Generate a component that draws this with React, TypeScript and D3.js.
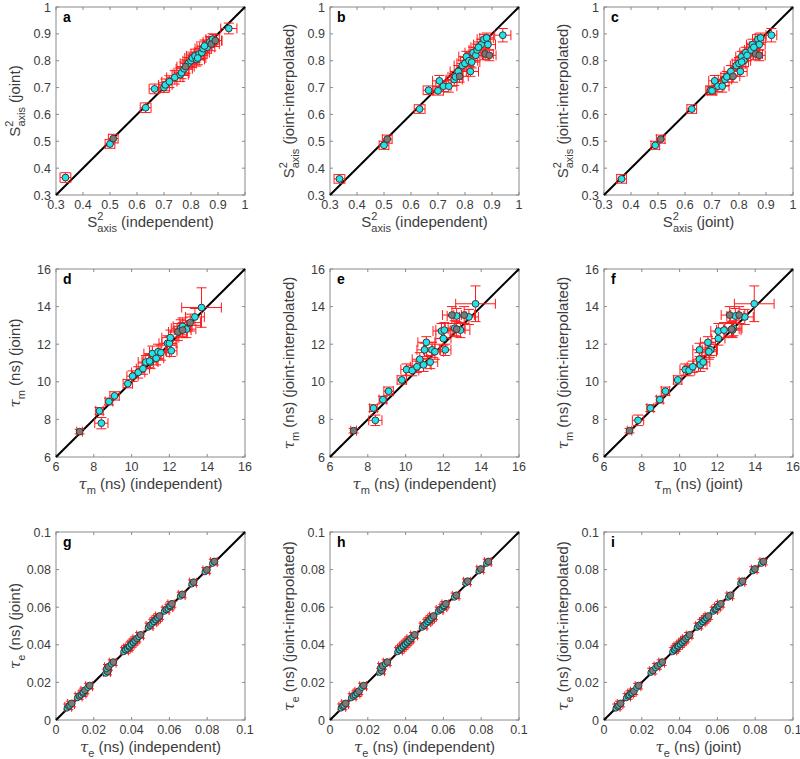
import React from 'react';
import * as d3 from 'd3';

// ---------- data ----------
// S2 axis order parameters per residue
const s2Indep = [0.335, 0.500, 0.512, 0.632, 0.665, 0.700, 0.705, 0.720, 0.740, 0.760, 0.765, 0.775, 0.780, 0.790, 0.800, 0.805, 0.820, 0.815, 0.830, 0.840, 0.845, 0.860, 0.870, 0.875, 0.885, 0.890, 0.880, 0.940, 0.825, 0.850];
const s2Joint = [0.365, 0.490, 0.510, 0.625, 0.695, 0.700, 0.710, 0.722, 0.738, 0.748, 0.755, 0.770, 0.778, 0.790, 0.800, 0.810, 0.805, 0.818, 0.825, 0.830, 0.845, 0.850, 0.870, 0.862, 0.875, 0.875, 0.880, 0.920, 0.810, 0.855];
const s2Interp = [0.360, 0.485, 0.508, 0.620, 0.690, 0.688, 0.725, 0.705, 0.705, 0.730, 0.740, 0.760, 0.742, 0.782, 0.790, 0.815, 0.760, 0.800, 0.830, 0.820, 0.840, 0.860, 0.880, 0.825, 0.860, 0.820, 0.885, 0.895, 0.795, 0.850];
const s2IndepErr = [0.020, 0.018, 0.018, 0.020, 0.020, 0.020, 0.025, 0.028, 0.030, 0.030, 0.028, 0.030, 0.032, 0.030, 0.030, 0.028, 0.030, 0.032, 0.030, 0.028, 0.030, 0.028, 0.025, 0.030, 0.028, 0.025, 0.025, 0.030, 0.030, 0.028];
const s2JointErr = [0.018, 0.016, 0.016, 0.018, 0.018, 0.018, 0.022, 0.022, 0.025, 0.025, 0.022, 0.025, 0.025, 0.022, 0.025, 0.022, 0.025, 0.025, 0.022, 0.022, 0.025, 0.022, 0.020, 0.025, 0.022, 0.022, 0.020, 0.020, 0.025, 0.022];
const s2InterpErr = [0.016, 0.015, 0.015, 0.016, 0.016, 0.016, 0.020, 0.020, 0.022, 0.022, 0.020, 0.022, 0.022, 0.020, 0.022, 0.020, 0.018, 0.022, 0.020, 0.020, 0.022, 0.020, 0.018, 0.020, 0.020, 0.020, 0.018, 0.025, 0.022, 0.020];
const s2Gray = [2, 12, 23, 25];

// tau_m (ns) per residue
const tmIndep = [7.25, 8.30, 8.40, 8.80, 9.10, 9.80, 10.05, 10.35, 10.60, 10.75, 11.00, 11.10, 10.95, 11.30, 11.40, 11.90, 12.00, 12.05, 12.10, 12.45, 12.60, 12.70, 12.70, 13.10, 13.35, 13.70, 11.55, 12.90];
const tmJoint = [7.35, 8.45, 7.80, 8.95, 9.25, 9.90, 10.30, 10.50, 10.70, 11.05, 11.05, 11.50, 11.10, 11.25, 11.60, 12.05, 12.05, 12.35, 11.65, 12.65, 12.85, 12.75, 12.95, 13.15, 13.45, 13.95, 11.55, 12.80];
const tmInterp = [7.40, 8.60, 7.95, 9.05, 9.50, 10.10, 10.65, 10.60, 10.80, 11.20, 11.70, 12.10, 10.90, 11.05, 11.70, 12.70, 12.30, 12.75, 11.70, 13.55, 12.85, 12.80, 13.50, 13.55, 13.45, 14.15, 11.60, 12.75];
const tmIndepErr = [0.15, 0.20, 0.35, 0.20, 0.25, 0.25, 0.30, 0.35, 0.35, 0.40, 0.40, 0.45, 0.40, 0.40, 0.45, 0.45, 0.40, 0.45, 0.30, 0.50, 0.50, 0.45, 0.50, 0.55, 0.50, 1.05, 0.45, 0.50];
const tmJointErr = [0.12, 0.18, 0.30, 0.18, 0.22, 0.22, 0.28, 0.30, 0.30, 0.35, 0.35, 0.40, 0.35, 0.35, 0.40, 0.40, 0.35, 0.40, 0.30, 0.45, 0.45, 0.40, 0.45, 0.45, 0.45, 1.05, 0.40, 0.45];
const tmInterpErr = [0.12, 0.18, 0.28, 0.18, 0.22, 0.22, 0.30, 0.28, 0.30, 0.35, 0.35, 0.30, 0.35, 0.35, 0.40, 0.40, 0.35, 0.40, 0.30, 0.45, 0.40, 0.40, 0.40, 0.45, 0.40, 0.95, 0.40, 0.40];
const tmGray = [0, 19, 21, 23];

// tau_e (ns) per residue
const teIndep = [0.0065, 0.0080, 0.0120, 0.0140, 0.0150, 0.0175, 0.0270, 0.0275, 0.0300, 0.0365, 0.0375, 0.0385, 0.0395, 0.0405, 0.0415, 0.0425, 0.0445, 0.0495, 0.0515, 0.0525, 0.0535, 0.0545, 0.0580, 0.0600, 0.0610, 0.0665, 0.0725, 0.0795, 0.0835];
const teJoint = [0.0070, 0.0085, 0.0125, 0.0140, 0.0155, 0.0180, 0.0255, 0.0280, 0.0305, 0.0370, 0.0380, 0.0385, 0.0400, 0.0410, 0.0420, 0.0430, 0.0450, 0.0500, 0.0520, 0.0530, 0.0540, 0.0550, 0.0585, 0.0600, 0.0615, 0.0665, 0.0730, 0.0795, 0.0840];
const teInterp = [0.0070, 0.0085, 0.0125, 0.0140, 0.0150, 0.0180, 0.0260, 0.0285, 0.0305, 0.0370, 0.0380, 0.0390, 0.0400, 0.0410, 0.0420, 0.0430, 0.0450, 0.0500, 0.0520, 0.0530, 0.0540, 0.0550, 0.0585, 0.0600, 0.0615, 0.0660, 0.0735, 0.0800, 0.0840];
const teIndepErr = [0.0018, 0.0018, 0.0018, 0.0018, 0.0018, 0.0018, 0.0018, 0.0018, 0.0018, 0.0018, 0.0018, 0.0018, 0.0018, 0.0018, 0.0018, 0.0018, 0.0018, 0.0018, 0.0018, 0.0018, 0.0018, 0.0018, 0.0018, 0.0018, 0.0018, 0.0018, 0.0018, 0.0018, 0.0018];
const teJointErr = [0.0015, 0.0015, 0.0015, 0.0015, 0.0015, 0.0015, 0.0015, 0.0015, 0.0015, 0.0015, 0.0015, 0.0015, 0.0015, 0.0015, 0.0015, 0.0015, 0.0015, 0.0015, 0.0015, 0.0015, 0.0015, 0.0015, 0.0015, 0.0015, 0.0015, 0.0015, 0.0015, 0.0015, 0.0015];
const teInterpErr = [0.0015, 0.0015, 0.0015, 0.0015, 0.0015, 0.0015, 0.0015, 0.0015, 0.0015, 0.0015, 0.0015, 0.0015, 0.0015, 0.0015, 0.0015, 0.0015, 0.0015, 0.0015, 0.0015, 0.0015, 0.0015, 0.0015, 0.0015, 0.0015, 0.0015, 0.0015, 0.0015, 0.0015, 0.0015];

const s2Ticks = [0.3, 0.4, 0.5, 0.6, 0.7, 0.8, 0.9, 1];
const tmTicks = [6, 8, 10, 12, 14, 16];
const teTicks = [0, 0.02, 0.04, 0.06, 0.08, 0.1];

const panelLetters = ['a', 'b', 'c', 'd', 'e', 'f', 'g', 'h', 'i'];
const methodNames = ['independent', 'joint', 'joint-interpolated'];

// ---------- layout ----------
const COLS = [56, 330, 604];
const ROWS = [7, 269, 532];
const PW = 189;
const PH = 188;
const CYAN = '#22e2ea';
const EDGE = '#3a3a3a';
const GRAYFILL = '#7a7a7a';
const AXIS = '#8a8a8a';
const TXT = '#3c3c3c';

type Param = 's2' | 'tm' | 'te';

const paramInfo: Record<Param, any> = {
  s2: { vals: [s2Indep, s2Joint, s2Interp], errs: [s2IndepErr, s2JointErr, s2InterpErr], ticks: s2Ticks, gray: s2Gray, dom: [0.3, 1] },
  tm: { vals: [tmIndep, tmJoint, tmInterp], errs: [tmIndepErr, tmJointErr, tmInterpErr], ticks: tmTicks, gray: tmGray, dom: [6, 16] },
  te: { vals: [teIndep, teJoint, teInterp], errs: [teIndepErr, teJointErr, teInterpErr], ticks: teTicks, gray: [], dom: [0, 0.1] },
};

const pairs: [number, number][] = [[0, 1], [0, 2], [1, 2]];
const params: Param[] = ['s2', 'tm', 'te'];

function AxisLabel({ param, method, x, y, rotate }: any) {
  const t = rotate ? `rotate(-90, ${x}, ${y})` : undefined;
  if (param === 's2') {
    return (
      <text x={x} y={y} transform={t} textAnchor="middle" fontSize={15} fill={TXT} fontFamily="Liberation Sans, Arial, sans-serif">
        <tspan>S</tspan>
        <tspan fontSize={11} dy={-7}>2</tspan>
        <tspan fontSize={11} dx={-6.1} dy={12}>axis</tspan>
        <tspan dy={-5}>{` (${method})`}</tspan>
      </text>
    );
  }
  const sub = param === 'tm' ? 'm' : 'e';
  return (
    <text x={x} y={y} transform={t} textAnchor="middle" fontSize={15} fill={TXT} fontFamily="Liberation Sans, Arial, sans-serif">
      <tspan fontFamily="DejaVu Serif, serif" fontStyle="italic">τ</tspan>
      <tspan fontSize={11} dy={5}>{sub}</tspan>
      <tspan dy={-5}>{` (ns) (${method})`}</tspan>
    </text>
  );
}

function Panel({ row, col }: { row: number; col: number }) {
  const param = params[row];
  const info = paramInfo[param];
  const [ix, iy] = pairs[col];
  const xs: number[] = info.vals[ix];
  const ys: number[] = info.vals[iy];
  const xe: number[] = info.errs[ix];
  const ye: number[] = info.errs[iy];
  const left = COLS[col];
  const top = ROWS[row];
  const x = d3.scaleLinear().domain(info.dom).range([left, left + PW]);
  const y = d3.scaleLinear().domain(info.dom).range([top + PH, top]);
  const ticks: number[] = info.ticks;
  const fmt = (v: number) => String(+v.toFixed(2));
  const cap = 5;
  const tl = 3;
  const r = 3.4;
  const grayIdx: number[] = info.gray;
  const line = d3.line<number>().x((v) => x(v)).y((v) => y(v));
  const letter = panelLetters[row * 3 + col];

  return (
    <g>
      <rect x={left} y={top} width={PW} height={PH} fill="none" stroke={AXIS} strokeWidth={1} />
      {ticks.map((t, i) => (
        <g key={'t' + i}>
          <line x1={x(t)} x2={x(t)} y1={top + PH} y2={top + PH - tl} stroke={AXIS} />
          <line x1={x(t)} x2={x(t)} y1={top} y2={top + tl} stroke={AXIS} />
          <line x1={left} x2={left + tl} y1={y(t)} y2={y(t)} stroke={AXIS} />
          <line x1={left + PW} x2={left + PW - tl} y1={y(t)} y2={y(t)} stroke={AXIS} />
          <text x={x(t)} y={top + PH + 14} textAnchor="middle" fontSize={12.5} fill={TXT} fontFamily="Liberation Sans, Arial, sans-serif">{fmt(t)}</text>
          <text x={left - 5} y={y(t) + 4.5} textAnchor="end" fontSize={12.5} fill={TXT} fontFamily="Liberation Sans, Arial, sans-serif">{fmt(t)}</text>
        </g>
      ))}
      <path d={line(info.dom) || ''} stroke="#000" strokeWidth={2} fill="none" />
      {xs.map((xv, i) => {
        const yv = ys[i];
        const px = x(xv), py = y(yv);
        const x0 = x(xv - xe[i]), x1 = x(xv + xe[i]);
        const y0 = y(yv - ye[i]), y1 = y(yv + ye[i]);
        return (
          <g key={'e' + i} stroke="#ff1a1a" strokeWidth={1} fill="none">
            <line x1={x0} x2={x1} y1={py} y2={py} />
            <line x1={x0} x2={x0} y1={py - cap} y2={py + cap} />
            <line x1={x1} x2={x1} y1={py - cap} y2={py + cap} />
            <line x1={px} x2={px} y1={y0} y2={y1} />
            <line x1={px - cap} x2={px + cap} y1={y0} y2={y0} />
            <line x1={px - cap} x2={px + cap} y1={y1} y2={y1} />
          </g>
        );
      })}
      {xs.map((xv, i) => (
        grayIdx.includes(i) || param === 'te' ? null :
          <circle key={'c' + i} cx={x(xv)} cy={y(ys[i])} r={r} fill={CYAN} stroke={EDGE} strokeWidth={1} />
      ))}
      {param === 'te' && xs.map((xv, i) => (
        <g key={'g' + i}>
          <circle cx={x(xv) - 1.3} cy={y(ys[i]) + 1.3} r={r - 0.4} fill={CYAN} stroke={EDGE} strokeWidth={1} />
          <circle cx={x(xv) + 0.6} cy={y(ys[i]) - 0.6} r={r} fill={GRAYFILL} stroke={EDGE} strokeWidth={1} />
        </g>
      ))}
      {grayIdx.map((i) => (
        <circle key={'gr' + i} cx={x(xs[i])} cy={y(ys[i])} r={r} fill={GRAYFILL} stroke={EDGE} strokeWidth={1} />
      ))}
      <text x={left + 7} y={top + 15} fontSize={14} fontWeight="bold" fill="#000" fontFamily="Liberation Sans, Arial, sans-serif">{letter}</text>
      <AxisLabel param={param} method={methodNames[ix]} x={left + PW / 2} y={top + PH + 32} />
      <AxisLabel param={param} method={methodNames[iy]} x={left - 36} y={top + PH / 2} rotate />
    </g>
  );
}

export default function App() {
  return (
    <svg width={800} height={759} style={{ position: 'absolute', left: 0, top: 0, background: '#fff' }}>
      <rect x={0} y={0} width={800} height={759} fill="#fff" />
      {[0, 1, 2].map((row) => [0, 1, 2].map((col) => <Panel key={row + '-' + col} row={row} col={col} />))}
    </svg>
  );
}
